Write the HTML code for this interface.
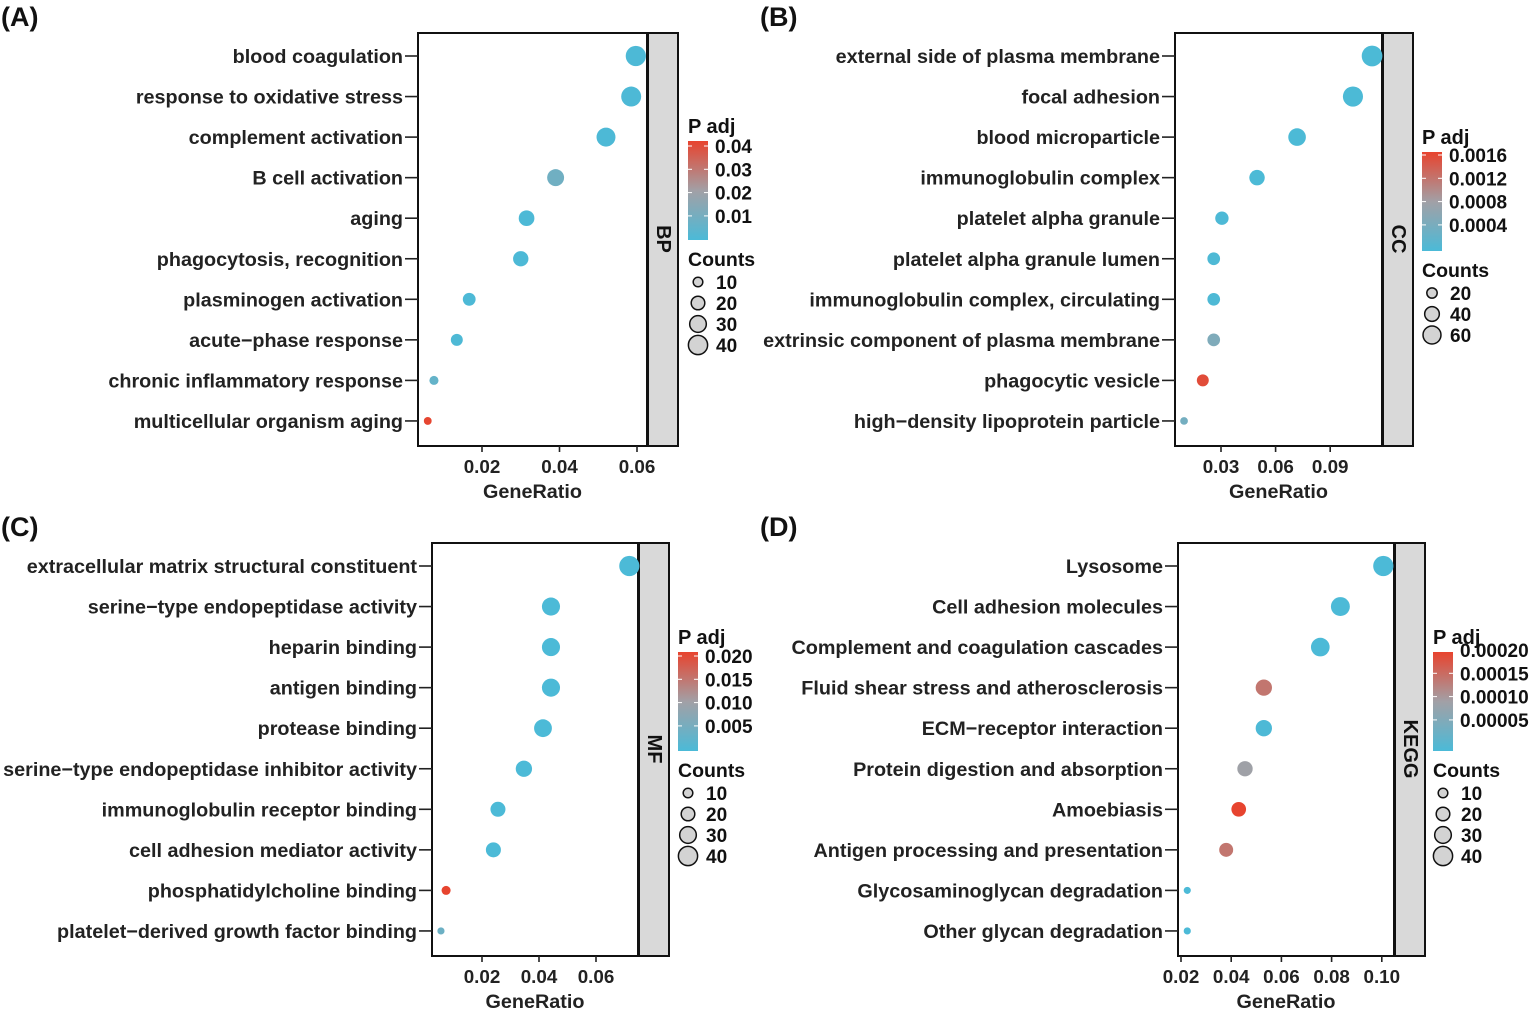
<!DOCTYPE html>
<html><head><meta charset="utf-8">
<style>
html,body{margin:0;padding:0;background:#fff;}
svg{display:block;font-family:"Liberation Sans",Arial,sans-serif;font-weight:bold;}
</style></head>
<body>
<svg id="fig" width="1535" height="1011" viewBox="0 0 1535 1011" xmlns="http://www.w3.org/2000/svg">
<defs>
<linearGradient id="cbar" x1="0" y1="1" x2="0" y2="0">
<stop offset="0" stop-color="#4bbad7"/><stop offset="0.5" stop-color="#a2a0a6"/><stop offset="1" stop-color="#e8432e"/>
</linearGradient>
</defs>
</svg>
<script>
// ---- Panel A (BP) data
const aTerms = ["blood coagulation","response to oxidative stress","complement activation","B cell activation","aging","phagocytosis, recognition","plasminogen activation","acute\u2212phase response","chronic inflammatory response","multicellular organism aging"];
const aRatio = [0.0597,0.0585,0.052,0.039,0.0315,0.030,0.0167,0.0135,0.0076,0.006];
const aCount = [40,39,35,28,24,23,16,14,8,6];
const aPadj = [0.0005,0.0005,0.0005,0.009,0.0005,0.0005,0.0005,0.0008,0.006,0.042];
const aTicks = [0.02,0.04,0.06];
const aPTicks = ["0.04","0.03","0.02","0.01"];
const aCTicks = [10,20,30,40];
// ---- Panel B (CC) data
const bTerms = ["external side of plasma membrane","focal adhesion","blood microparticle","immunoglobulin complex","platelet alpha granule","platelet alpha granule lumen","immunoglobulin complex, circulating","extrinsic component of plasma membrane","phagocytic vesicle","high\u2212density lipoprotein particle"];
const bRatio = [0.113,0.1025,0.0718,0.0498,0.0305,0.026,0.026,0.026,0.020,0.0097];
const bCount = [72,68,52,40,30,27,27,27,24,10];
const bPadj = [0.00001,0.00001,0.00001,0.00001,0.00002,0.00003,0.00003,0.0005,0.0016,0.0004];
const bTicks = [0.03,0.06,0.09];
const bPTicks = ["0.0016","0.0012","0.0008","0.0004"];
const bCTicks = [20,40,60];
// ---- Panel C (MF) data
const cTerms = ["extracellular matrix structural constituent","serine\u2212type endopeptidase activity","heparin binding","antigen binding","protease binding","serine\u2212type endopeptidase inhibitor activity","immunoglobulin receptor binding","cell adhesion mediator activity","phosphatidylcholine binding","platelet\u2212derived growth factor binding"];
const cRatio = [0.0717,0.0442,0.0442,0.0442,0.0414,0.0347,0.0256,0.0240,0.0074,0.0056];
const cCount = [40,32,32,32,31,26,22,22,8,5];
const cPadj = [0.0001,0.0001,0.0001,0.0001,0.0001,0.0001,0.0001,0.0001,0.021,0.004];
const cTicks = [0.02,0.04,0.06];
const cPTicks = ["0.020","0.015","0.010","0.005"];
const cCTicks = [10,20,30,40];
// ---- Panel D (KEGG) data
const dTerms = ["Lysosome","Cell adhesion molecules","Complement and coagulation cascades","Fluid shear stress and atherosclerosis","ECM\u2212receptor interaction","Protein digestion and absorption","Amoebiasis","Antigen processing and presentation","Glycosaminoglycan degradation","Other glycan degradation"];
const dRatio = [0.1006,0.0835,0.0755,0.053,0.053,0.0455,0.043,0.038,0.0225,0.0225];
const dCount = [40,35,34,26,26,23,21,19,5,5];
const dPadj = [0.000001,0.000001,0.000001,0.00015,0.000002,0.0001,0.000205,0.00015,0.000001,0.000001];
const dTicks = [0.02,0.04,0.06,0.08,0.10];
const dPTicks = ["0.00020","0.00015","0.00010","0.00005"];
const dCTicks = [10,20,30,40];

const NS = "http://www.w3.org/2000/svg";
const svg = document.getElementById('fig');
function mk(tag, attrs, parent, text){
  const e = document.createElementNS(NS, tag);
  for (const k in attrs) e.setAttribute(k, attrs[k]);
  if (text !== undefined) e.textContent = text;
  (parent||svg).appendChild(e);
  return e;
}
function lerp(a,b,t){return a+(b-a)*t;}
function colorFor(p, pmax){
  let t = Math.max(0, Math.min(1, p/pmax));
  const c0=[75,186,215], c1=[162,160,166], c2=[232,67,46];
  let c;
  if (t<0.5){const u=t/0.5;c=[0,1,2].map(i=>lerp(c0[i],c1[i],u));}
  else {const u=(t-0.5)/0.5;c=[0,1,2].map(i=>lerp(c1[i],c2[i],u));}
  return 'rgb('+c.map(Math.round).join(',')+')';
}

function panel(cfg, terms, ratio, count, padj, ticks, pticks, cticks){
  const g = mk('g', {});
  
  
  const pl = mk('text', {x:cfg.labX, y:cfg.labY, 'font-size':27, fill:'#111'}, g, cfg.label);
  
  
  const x = v => cfg.x0px + (v - cfg.x0v) * cfg.pxPer;
  const rowY = i => cfg.top + 23 + i*40.55;
  const bottom = cfg.top + 413;
  const box = mk('rect', {x:cfg.left, y:cfg.top, width:cfg.right-cfg.left, height:413, fill:'#fff', stroke:'#111', 'stroke-width':2}, g);
  
  
  const strip = mk('rect', {x:cfg.right+1, y:cfg.top, width:30, height:413, fill:'#d9d9d9', stroke:'#111', 'stroke-width':2}, g);
  
  
  const sc = cfg.right+16;
  const st = mk('text', {x:sc, y:cfg.top+206, 'font-size':20, fill:'#111', 'text-anchor':'middle', 'dominant-baseline':'central', transform:'rotate(90 '+sc+' '+(cfg.top+206)+')'}, g, cfg.strip);
  
  
  terms.forEach((t,i)=>{
    const y = rowY(i);
    mk('line', {x1:cfg.left-13, x2:cfg.left, y1:y, y2:y, stroke:'#222', 'stroke-width':1.6}, g);
    const tx = mk('text', {x:cfg.left-15, y:y+7, 'font-size':19.8, fill:'#222', 'text-anchor':'end'}, g, t);
    
    
  });
  ticks.forEach(v=>{
    const xx = x(v);
    mk('line', {x1:xx, x2:xx, y1:bottom, y2:bottom+6, stroke:'#222', 'stroke-width':1.6}, g);
    const tl = mk('text', {x:xx, y:bottom+27, 'font-size':18.8, fill:'#222', 'text-anchor':'middle'}, g, v.toFixed(2));
    
    
  });
  const xt = mk('text', {x:(cfg.left+cfg.right)/2, y:bottom+52, 'font-size':19.8, fill:'#222', 'text-anchor':'middle'}, g, 'GeneRatio');
  
  
  ratio.forEach((v,i)=>{
    const c = mk('circle', {cx:x(v), cy:rowY(i), r:cfg.k*Math.sqrt(count[i]), fill:colorFor(padj[i], cfg.pmax)}, g);
    
    
  });
  // legend
  const lx = cfg.legX, ly = cfg.legY;
  const lt = mk('text', {x:lx, y:ly, 'font-size':20, fill:'#111'}, g, 'P adj');
  
  
  const cb = mk('rect', {x:lx, y:ly+8, width:20, height:99, fill:'url(#cbar)'}, g);
  
  
  pticks.forEach((p,i)=>{
    const yy = ly + 8 + cfg.ptick0 + i*23.3;
    mk('line', {x1:lx, x2:lx+4, y1:yy, y2:yy, stroke:'#fff', 'stroke-width':1}, g);
    mk('line', {x1:lx+16, x2:lx+20, y1:yy, y2:yy, stroke:'#fff', 'stroke-width':1}, g);
    const pt = mk('text', {x:lx+27, y:yy+7, 'font-size':19, fill:'#111'}, g, String(p));
    
    
  });
  const ct = mk('text', {x:lx, y:ly+133, 'font-size':19.5, fill:'#111'}, g, 'Counts');
  
  
  cticks.forEach((c,i)=>{
    const yy = ly + 149 + i*21;
    const cc = mk('circle', {cx:lx+10, cy:yy, r:cfg.k*Math.sqrt(c)*0.95, fill:'#d3d3d3', stroke:'#111', 'stroke-width':1.5}, g);
    
    
    const cl = mk('text', {x:lx+28, y:yy+7, 'font-size':19, fill:'#111'}, g, String(c));
    
    
  });
}

panel({name:'panel-a-bp', label:'(A)', labX:1, labY:26, left:418, right:647, top:33, strip:'BP',
  x0v:0.02, x0px:482, pxPer:3875, k:1.6, pmax:0.0426, legX:688, legY:133, ptick0:5},
  aTerms, aRatio, aCount, aPadj, aTicks, aPTicks, aCTicks);
panel({name:'panel-b-cc', label:'(B)', labX:760, labY:26, left:1175, right:1382, top:33, strip:'CC',
  x0v:0.03, x0px:1221, pxPer:1820, k:1.22, pmax:0.00168, legX:1422, legY:144, ptick0:3},
  bTerms, bRatio, bCount, bPadj, bTicks, bPTicks, bCTicks);
panel({name:'panel-c-mf', label:'(C)', labX:1, labY:536, left:432, right:638, top:543, strip:'MF',
  x0v:0.02, x0px:482, pxPer:2850, k:1.6, pmax:0.0211, legX:678, legY:644, ptick0:4},
  cTerms, cRatio, cCount, cPadj, cTicks, cPTicks, cCTicks);
panel({name:'panel-d-kegg', label:'(D)', labX:760, labY:536, left:1178, right:1394, top:543, strip:'KEGG',
  x0v:0.02, x0px:1181, pxPer:2510, k:1.6, pmax:0.000206, legX:1433, legY:644, ptick0:-2},
  dTerms, dRatio, dCount, dPadj, dTicks, dPTicks, dCTicks);
</script>
</body></html>
